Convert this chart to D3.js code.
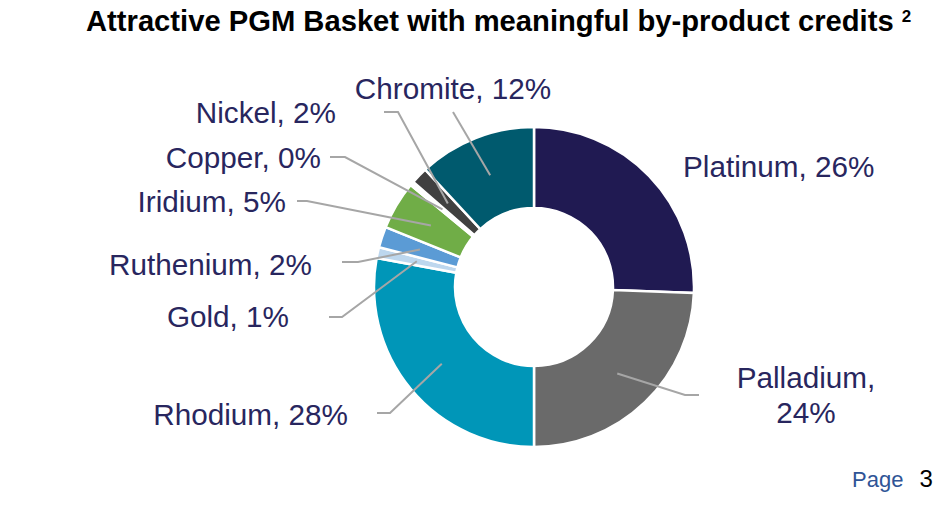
<!DOCTYPE html>
<html lang="en">
<head>
<meta charset="UTF-8">
<title>Attractive PGM Basket</title>
<script src="https://cdn.jsdelivr.net/npm/d3@7"></script>
<style>
  body { margin: 0; background: #fff; }
  text { font-family: "Liberation Sans", Arial, sans-serif; }
</style>
</head>
<body>
<div id="chart"></div>
<script>
// basket split, clockwise from 12 o'clock
var metals  = ["Platinum", "Palladium", "Rhodium", "Gold", "Ruthenium", "Iridium", "Copper", "Nickel", "Chromite"];
var shares  = [25.6, 24.4, 27.9, 1.1, 2.1, 4.9, 0.4, 1.7, 11.9];
var labels  = ["26%", "24%", "28%", "1%", "2%", "5%", "0%", "2%", "12%"];
var colours = ["#201a52", "#6a6a6a", "#0096b8", "#bdd7ee", "#5b9bd5", "#70ad47", "#ffffff", "#404040", "#005a6e"];

// where each label sits: anchor, text position, leader start and elbow
var labelPos = [
  {anchor: "start",  x: 683, y: 177, lines: 1},
  {anchor: "middle", x: 806, y: 388, lines: 2, lead: [699, 395], elbow: [685, 395]},
  {anchor: "end",    x: 348, y: 425, lines: 1, lead: [377, 413], elbow: [390, 413]},
  {anchor: "end",    x: 289, y: 327, lines: 1, lead: [329, 317], elbow: [342, 317]},
  {anchor: "end",    x: 312, y: 275, lines: 1, lead: [342, 262], elbow: [358, 262]},
  {anchor: "end",    x: 286, y: 212, lines: 1, lead: [297, 201], elbow: [307, 201]},
  {anchor: "end",    x: 321, y: 168, lines: 1, lead: [330, 157], elbow: [345, 157]},
  {anchor: "end",    x: 336, y: 123, lines: 1, lead: [384, 112], elbow: [398, 112]},
  {anchor: "middle", x: 453, y: 99,  lines: 1, lead: [453, 112], elbow: [453, 112]}
];

var width = 948, height = 517;
var cx = 534, cy = 287, outerR = 160, innerR = 79;

var svg = d3.select("#chart").append("svg")
    .attr("width", width)
    .attr("height", height);

// title
var title = svg.append("text")
    .attr("x", 86)
    .attr("y", 31)
    .attr("font-size", "29.2px")
    .attr("font-weight", "bold")
    .attr("fill", "#000");
title.append("tspan").text("Attractive PGM Basket with meaningful by-product credits ");
title.append("tspan")
    .attr("font-size", "17px")
    .attr("dy", -9)
    .text("2");

var pie = d3.pie().sort(null).value(function(d) { return d; });
var arcs = pie(shares);

var arc = d3.arc().innerRadius(innerR).outerRadius(outerR);
var mid = d3.arc().innerRadius(120).outerRadius(120);

var g = svg.append("g").attr("transform", "translate(" + cx + "," + cy + ")");

g.selectAll("path.slice")
  .data(arcs)
  .enter().append("path")
    .attr("class", "slice")
    .attr("d", arc)
    .attr("fill", function(d, i) { return colours[i]; })
    .attr("stroke", "#fff")
    .attr("stroke-width", 2.5);

// leader lines: label -> elbow -> middle of the slice
svg.selectAll("path.leader")
  .data(arcs)
  .enter().filter(function(d, i) { return labelPos[i].lead; })
  .append("path")
    .attr("class", "leader")
    .attr("fill", "none")
    .attr("stroke", "#a6a6a6")
    .attr("stroke-width", 2)
    .attr("d", function(d) {
      var p = labelPos[d.index], c = mid.centroid(d);
      return d3.line()([p.lead, p.elbow, [c[0] + cx, c[1] + cy]]);
    });

// labels
var lab = svg.selectAll("text.lab")
  .data(arcs)
  .enter().append("text")
    .attr("class", "lab")
    .attr("x", function(d) { return labelPos[d.index].x; })
    .attr("y", function(d) { return labelPos[d.index].y; })
    .attr("text-anchor", function(d) { return labelPos[d.index].anchor; })
    .attr("font-size", "29.7px")
    .attr("fill", "#28265e");

lab.each(function(d) {
  var t = d3.select(this), p = labelPos[d.index];
  if (p.lines === 2) {
    t.append("tspan").attr("x", p.x).text(metals[d.index] + ",");
    t.append("tspan").attr("x", p.x).attr("dy", 35).text(labels[d.index]);
  } else {
    t.text(metals[d.index] + ", " + labels[d.index]);
  }
});

// page number
var page = svg.append("text")
    .attr("x", 852)
    .attr("y", 487)
    .attr("font-size", "22px");
page.append("tspan").attr("fill", "#2f5496").text("Page");
page.append("tspan").attr("fill", "#000").attr("dx", 16).attr("font-size", "24px").text("3");
</script>
</body>
</html>
